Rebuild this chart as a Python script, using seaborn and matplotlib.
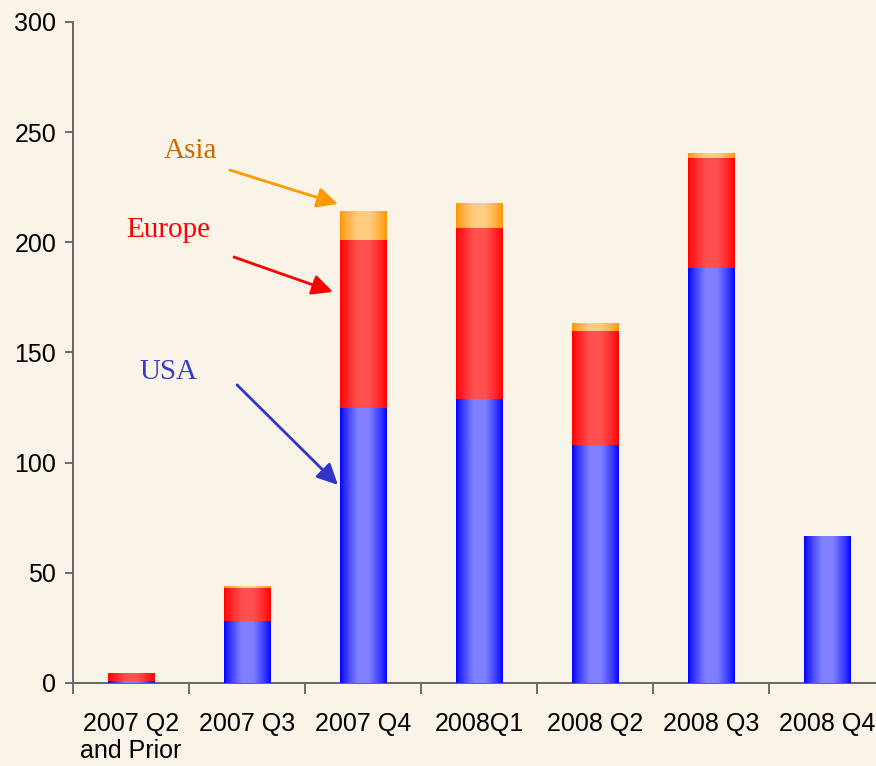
import numpy as np
import pandas as pd
import matplotlib
matplotlib.use("Agg")
import matplotlib.pyplot as plt
import seaborn as sns

quarters = ["2007 Q2\nand Prior", "2007 Q3", "2007 Q4", "2008Q1", "2008 Q2", "2008 Q3", "2008 Q4"]
usa = [0.5, 28, 124.5, 128.5, 108, 188, 66.7]
europe = [4, 15, 76.5, 78, 51.5, 50, 0]
asia = [0, 1, 13, 11, 3.5, 2.5, 0]
yticks = [0, 50, 100, 150, 200, 250, 300]

BG = "#F9F3E8"
sns.set_theme(style="white")
plt.rcParams["font.family"] = ["Liberation Sans", "DejaVu Sans"]

usa_a = np.array(usa)
eur_a = np.array(europe)
asia_a = np.array(asia)
layers = [
    ("Asia", usa_a + eur_a + asia_a),
    ("Europe", usa_a + eur_a),
    ("USA", usa_a),
]
rows = []
for name, vals in layers:
    for q, v in zip(quarters, vals):
        rows.append({"quarter": q, "value": v, "layer": name})
df = pd.DataFrame(rows)

fig = plt.figure(figsize=(8.76, 7.66), dpi=100, facecolor=BG)
ax = fig.add_axes([73 / 876, 1 - 683 / 766, 1 - 73 / 876, (683 - 22) / 766])
ax.set_facecolor(BG)

sns.barplot(data=df, x="quarter", y="value", hue="layer", order=quarters,
            hue_order=["Asia", "Europe", "USA"], dodge=False, width=0.405,
            legend=False, ax=ax, errorbar=None)

edge_center = {
    "Asia": ((255, 150, 0), (255, 205, 130)),
    "Europe": ((255, 0, 0), (255, 80, 80)),
    "USA": ((0, 0, 255), (128, 128, 255)),
}

def gradient(edge, center, n=80):
    t = np.linspace(0, 1, n)
    mix = np.ones(n)
    mix = np.where(t < 0.38, t / 0.38, mix)
    mix = np.where(t > 0.62, (1 - t) / 0.38, mix)
    mix = np.clip(mix, 0, 1) ** 0.8
    e = np.array(edge, float) / 255
    c = np.array(center, float) / 255
    cols = e[None, :] + (c - e)[None, :] * mix[:, None]
    return cols[None, :, :]

for z, (cont, (name, _)) in enumerate(zip(ax.containers, layers)):
    img = gradient(*edge_center[name])
    for p in cont.patches:
        x, y = p.get_x(), p.get_y()
        w, h = p.get_width(), p.get_height()
        p.set_visible(False)
        if h <= 0:
            continue
        ax.imshow(img, extent=[x, x + w, y, y + h], aspect="auto",
                  interpolation="bilinear", zorder=2 + z)

ax.set_yticks(yticks)
ax.set_yticklabels([str(v) for v in yticks], fontsize=18, color="black")
ax.set_xticks(range(len(quarters)))
ax.set_xticklabels(quarters, fontsize=18, color="black", linespacing=1.15)
ax.set_xticks([i - 0.5 for i in range(len(quarters))], minor=True)
ax.set_xlim(-0.5, (876 - 73) / 116 - 0.5)
ax.set_ylim(0, 300)
ax.tick_params(axis="x", which="major", length=0, pad=21)
ax.tick_params(axis="x", which="minor", length=8, width=1.2, color="#555555",
               direction="out", bottom=True)
ax.tick_params(axis="y", which="major", length=6, width=1.2, color="#555555",
               direction="out", left=True, pad=6)
ax.set_xlabel("")
ax.set_ylabel("")
for s in ["top", "right"]:
    ax.spines[s].set_visible(False)
for s in ["left", "bottom"]:
    ax.spines[s].set_color("#666666")
    ax.spines[s].set_linewidth(1.4)
ax.grid(False)

serif = ["Liberation Serif", "DejaVu Serif"]
notes = [
    ("Asia", (0.509, 241.5), (0.853, 232.8), (1.784, 217.4), "#CC6A00", "#FF9900"),
    ("Europe", (0.319, 205.6), (0.888, 193.3), (1.741, 177.5), "#FF0000", "#FF0000"),
    ("USA", (0.319, 141.2), (0.914, 135.3), (1.784, 89.9), "#3A3ACC", "#3333CC"),
]
for label, tpos, tail, head, tcol, acol in notes:
    ax.text(tpos[0], tpos[1], label, fontsize=21, family=serif, color=tcol,
            ha="center", va="center", zorder=10)
    ax.annotate("", xy=head, xytext=tail, zorder=10,
                arrowprops=dict(arrowstyle="-|>,head_length=0.45,head_width=0.22",
                                color=acol, lw=2, mutation_scale=28,
                                shrinkA=0, shrinkB=0))

fig.savefig("out.png", dpi=100, facecolor=BG)
